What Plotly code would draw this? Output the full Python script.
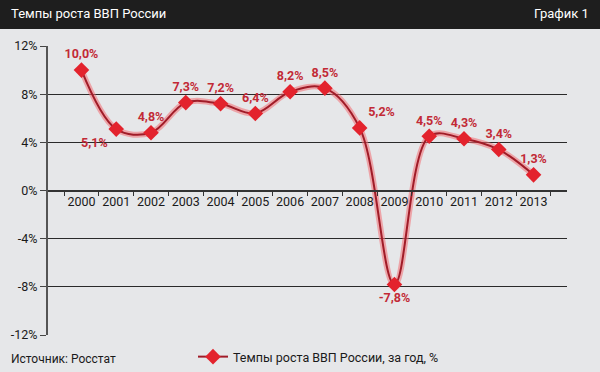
import plotly.graph_objects as go

years = ["2000", "2001", "2002", "2003", "2004", "2005", "2006",
         "2007", "2008", "2009", "2010", "2011", "2012", "2013"]
growth = [10.0, 5.1, 4.8, 7.3, 7.2, 6.4, 8.2, 8.5, 5.2, -7.8, 4.5, 4.3, 3.4, 1.3]
label_pos = ["top center", "bottom left", "top center", "top center", "top center",
             "top center", "top center", "top center", "top right", "bottom center",
             "top center", "top center", "top center", "top center"]
y_tickvals = [-12, -8, -4, 0, 4, 8, 12]
y_ticktext = ["-12%", "-8%", "-4%", "0%", "4%", "8%", "12%"]
series_name = "Темпы роста ВВП России, за год, %"
title_text = "Темпы роста ВВП России"
chart_no = "График 1"
source_text = "Источник: Росстат"

W, H = 600, 372
L, R, T = 48, 567, 46      # plot left / right / top in pixels
PB = H                      # paper bottom (margin b = 0)
AXB = 335                   # bottom of the y axis domain in pixels
FONT = "Roboto, Liberation Sans, sans-serif"


def px_x(x):
    return (x - L) / (R - L)


def px_y(y):
    return (PB - y) / (PB - T)


labels = [f"{v:.1f}%".replace(".", ",") for v in growth]

fig = go.Figure()
fig.add_trace(go.Scatter(
    x=years, y=growth, mode="lines",
    line=dict(shape="spline", color="rgba(242,110,115,0.55)", width=6),
    hoverinfo="skip", showlegend=False))
fig.add_trace(go.Scatter(
    x=years, y=growth, mode="lines+markers+text", name=series_name,
    line=dict(shape="spline", color="#a01c28", width=2),
    marker=dict(symbol="diamond", size=12, color="#e3232d", line=dict(width=0)),
    text=labels, textposition=label_pos,
    textfont=dict(family=FONT, size=12.5, color="#c22a36", weight="bold"),
    cliponaxis=False))

fig.update_layout(
    width=W, height=H, autosize=False,
    margin=dict(l=L, r=W - R, t=T, b=0),
    paper_bgcolor="#e6e7e9", plot_bgcolor="#e6e7e9",
    font=dict(family=FONT, size=12, color="#1a1a1a"),
    showlegend=True,
    legend=dict(orientation="h", x=px_x(193), y=0, xanchor="left", yanchor="bottom",
                bgcolor="rgba(0,0,0,0)", font=dict(family=FONT, size=12.5, color="#1a1a1a"),
                itemwidth=30),
    xaxis=dict(type="category", tickson="boundaries", ticks="outside", ticklen=5,
               tickcolor="#333", showline=True, linecolor="#333", linewidth=1.5,
               anchor="free", position=px_y((T + AXB) / 2), showgrid=False, zeroline=False,
               automargin=False,
               tickangle=0, tickfont=dict(family=FONT, size=12.5, color="#1a1a1a")),
    yaxis=dict(range=[-12, 12], domain=[px_y(AXB), 1], tickvals=y_tickvals, ticktext=y_ticktext,
               ticks="outside", ticklen=6, tickcolor="#444", automargin=False,
               showline=True, linecolor="#555", linewidth=2,
               showgrid=True, gridcolor="#2a2a2a", gridwidth=1, zeroline=False,
               tickfont=dict(family=FONT, size=12.5, color="#1a1a1a")),
    shapes=[dict(type="rect", xref="paper", yref="paper", layer="below",
                 x0=px_x(0), x1=px_x(W), y0=px_y(29), y1=px_y(0),
                 fillcolor="#1e1e1e", line=dict(width=0))],
    annotations=[
        dict(text=title_text, xref="paper", yref="paper", x=px_x(9), y=px_y(14),
             xanchor="left", yanchor="middle", showarrow=False,
             font=dict(family=FONT, size=13, color="white")),
        dict(text=chart_no, xref="paper", yref="paper", x=px_x(591), y=px_y(14),
             xanchor="right", yanchor="middle", showarrow=False,
             font=dict(family=FONT, size=13, color="white")),
        dict(text=source_text, xref="paper", yref="paper", x=px_x(9), y=px_y(359),
             xanchor="left", yanchor="middle", showarrow=False,
             font=dict(family=FONT, size=12, color="#1a1a1a")),
    ],
)

fig.write_html("out.html",
               config={"responsive": False, "displayModeBar": False},
               post_script="document.body.style.margin='0';document.body.style.overflow='hidden';")
